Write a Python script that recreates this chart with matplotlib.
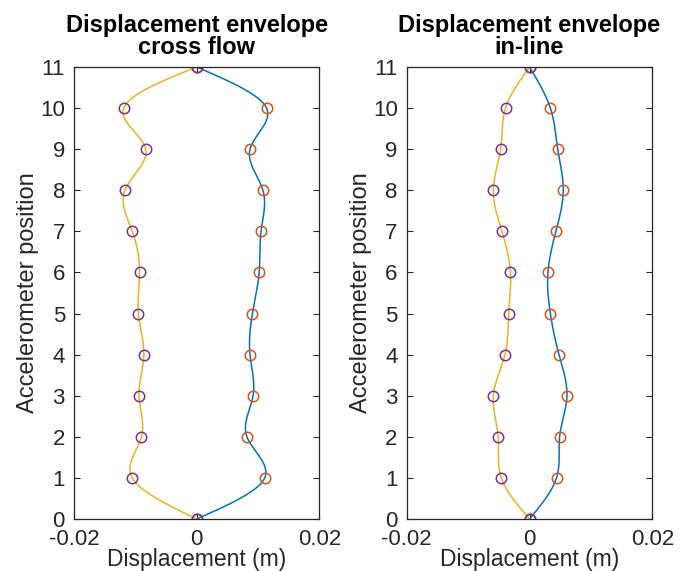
import numpy as np
import matplotlib
matplotlib.use('Agg')
import matplotlib.pyplot as plt

plt.rcParams['font.family'] = ['Liberation Sans', 'DejaVu Sans']

# accelerometer positions
positions = [0, 1, 2, 3, 4, 5, 6, 7, 8, 9, 10, 11]

# cross flow envelope (m)
cf_max = [0, 0.0111, 0.0082, 0.0092, 0.0087, 0.0091, 0.0102, 0.0105, 0.0108, 0.0087, 0.0114, 0]
cf_min = [0, -0.0105, -0.0090, -0.0094, -0.0086, -0.0095, -0.0093, -0.0105, -0.0117, -0.0083, -0.0119, 0]

# in-line envelope (m)
il_max = [0, 0.0044, 0.0049, 0.0061, 0.0048, 0.0034, 0.0030, 0.0043, 0.0055, 0.0046, 0.0034, 0]
il_min = [0, -0.0046, -0.0051, -0.0059, -0.0040, -0.0034, -0.0031, -0.0045, -0.0059, -0.0047, -0.0039, 0]

xticks = [-0.02, 0, 0.02]
xticklabels = ['-0.02', '0', '0.02']

BLUE = '#0072BD'
ORANGE = '#D95319'
YELLOW = '#EDB120'
PURPLE = '#7E2F8E'
TXT = '#262626'


# natural cubic spline through the measured points (like MATLAB spline plot)
def spline_curve(t, v, n=400):
    t = np.asarray(t, float)
    v = np.asarray(v, float)
    k = len(t)
    h = np.diff(t)
    A = np.zeros((k, k))
    b = np.zeros(k)
    A[0, 0] = 1
    A[-1, -1] = 1
    for i in range(1, k - 1):
        A[i, i - 1] = h[i - 1]
        A[i, i] = 2 * (h[i - 1] + h[i])
        A[i, i + 1] = h[i]
        b[i] = 6 * ((v[i + 1] - v[i]) / h[i] - (v[i] - v[i - 1]) / h[i - 1])
    m = np.linalg.solve(A, b)
    tt = np.linspace(t[0], t[-1], n)
    idx = np.clip(np.searchsorted(t, tt) - 1, 0, k - 2)
    t0, t1 = t[idx], t[idx + 1]
    hh = t1 - t0
    a = (t1 - tt) / hh
    c = (tt - t0) / hh
    vv = (a * v[idx] + c * v[idx + 1]
          + ((a ** 3 - a) * m[idx] + (c ** 3 - c) * m[idx + 1]) * hh ** 2 / 6)
    return tt, vv


def draw_envelope(ax, vmax, vmin, title):
    ty, tx = spline_curve(positions, vmax)
    ax.plot(tx, ty, color=BLUE, lw=1.1)
    ax.plot(vmax, positions, 'o', mfc='none', mec=ORANGE, ms=7.5, mew=1.1)
    ty, tx = spline_curve(positions, vmin)
    ax.plot(tx, ty, color=YELLOW, lw=1.1)
    ax.plot(vmin, positions, 'o', mfc='none', mec=PURPLE, ms=7.5, mew=1.1)

    ax.set_xlim(-0.02, 0.02)
    ax.set_ylim(0, 11)
    ax.set_xticks(xticks)
    ax.set_xticklabels(xticklabels)
    ax.set_yticks(positions)
    ax.tick_params(direction='in', length=4, width=0.8, colors=TXT,
                   labelsize=16, top=True, right=True)
    ax.tick_params(axis='x', pad=7)
    ax.tick_params(axis='y', pad=6.5)
    for s in ax.spines.values():
        s.set_color(TXT)
        s.set_linewidth(0.9)
    ax.set_xlabel('Displacement (m)', fontsize=16.5, color=TXT, labelpad=-1.5)
    ax.set_ylabel('Accelerometer position', fontsize=17, color=TXT, labelpad=0.5)
    ax.set_title(title, fontsize=17, fontweight='bold', color='black',
                 linespacing=0.95, pad=9.5)


fig = plt.figure(figsize=(6.88, 5.71), dpi=100)
ax1 = fig.add_axes([74 / 688, 1 - 519 / 571, 245.3 / 688, 452 / 571])
ax2 = fig.add_axes([406.7 / 688, 1 - 519 / 571, 245.6 / 688, 452 / 571])

draw_envelope(ax1, cf_max, cf_min, 'Displacement envelope\ncross flow')
draw_envelope(ax2, il_max, il_min, 'Displacement envelope\nin-line')

fig.savefig('out.png', dpi=100)
